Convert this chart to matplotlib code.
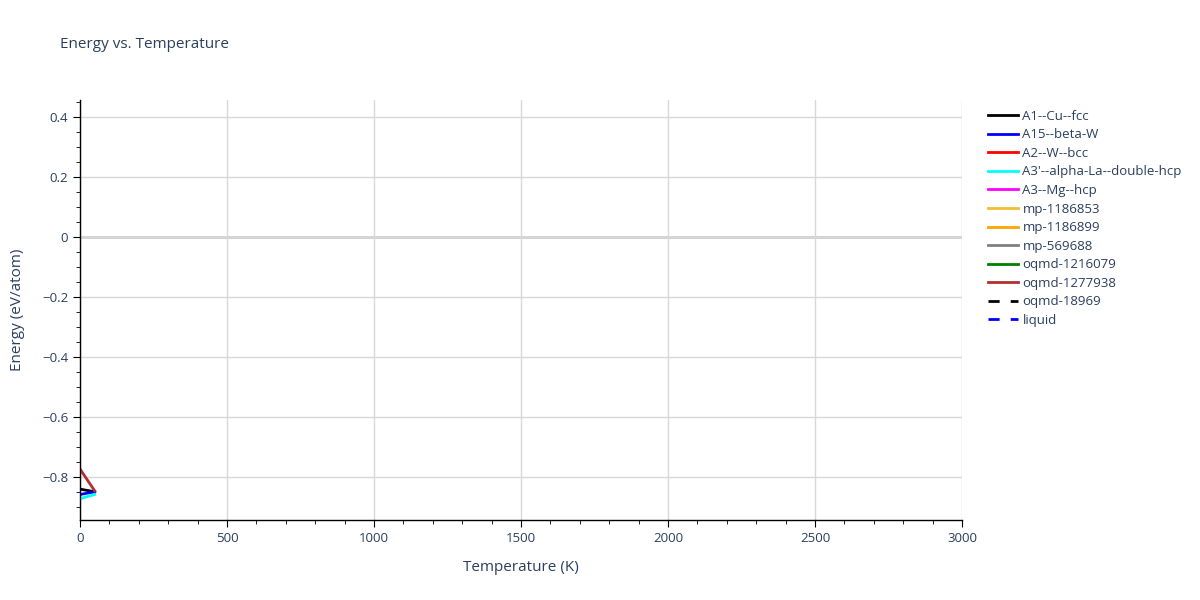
import matplotlib
matplotlib.use("Agg")
import matplotlib.pyplot as plt
from matplotlib.ticker import MultipleLocator

plt.rcParams["font.family"] = ["Open Sans", "DejaVu Sans"]

temps = [0, 50]
names = ["A1--Cu--fcc", "A15--beta-W", "A2--W--bcc", "A3'--alpha-La--double-hcp",
         "A3--Mg--hcp", "mp-1186853", "mp-1186899", "mp-569688", "oqmd-1216079",
         "oqmd-1277938", "oqmd-18969", "liquid"]
colors = ["black", "blue", "red", "cyan", "magenta", "#f0c030", "orange", "gray",
          "green", "#b03030", "black", "blue"]
styles = ["-"] * 10 + ["--", "--"]

e_a1 = [-0.840, -0.849]
e_a15 = [-0.858, -0.849]
e_a2 = []
e_a3p = [-0.872, -0.858]
e_a3 = []
e_mp1186853 = []
e_mp1186899 = []
e_mp569688 = []
e_oqmd1216079 = []
e_oqmd1277938 = [-0.773, -0.846]
e_oqmd18969 = []
e_liquid = []
series = [e_a1, e_a15, e_a2, e_a3p, e_a3, e_mp1186853, e_mp1186899, e_mp569688,
          e_oqmd1216079, e_oqmd1277938, e_oqmd18969, e_liquid]

txt = "#2a3f5f"
fig = plt.figure(figsize=(12, 6), dpi=100)
ax = fig.add_axes([80/1200, 1-520/600, (962-80)/1200, (520-100)/600])
for n, c, s, e in zip(names, colors, styles, series):
    if s == "--":
        ax.plot(temps[:len(e)], e, color=c, lw=2, label=n, dashes=(4, 4))
    else:
        ax.plot(temps[:len(e)], e, color=c, lw=2, label=n)

ax.set_xlim(0, 3000)
ax.set_ylim(-0.943, 0.457)
ax.xaxis.set_major_locator(MultipleLocator(500))
ax.xaxis.set_minor_locator(MultipleLocator(100))
ax.yaxis.set_major_locator(MultipleLocator(0.2))
ax.yaxis.set_minor_locator(MultipleLocator(0.05))
ax.grid(True, which="major", color="#d8d8d8", lw=1)
ax.axhline(0, color="#cccccc", lw=2, zorder=0.5)
ax.set_axisbelow(True)
for sp in ["top", "right"]:
    ax.spines[sp].set_visible(False)
for sp in ["left", "bottom"]:
    ax.spines[sp].set_color("black")
    ax.spines[sp].set_linewidth(1)
ax.tick_params(which="major", length=5, color="black", labelcolor=txt, labelsize=9.5)
ax.tick_params(which="minor", length=3, color="black")
ax.yaxis.set_major_formatter(matplotlib.ticker.FuncFormatter(
    lambda v, p: "0" if abs(v) < 1e-9 else f"{v:.1f}".replace("-", "\u2212")))
ax.set_xlabel("Temperature (K)", color=txt, fontsize=11, labelpad=11)
ax.set_ylabel("Energy (eV/atom)", color=txt, fontsize=11, labelpad=12)
fig.text(60/1200, 1-45/600, "Energy vs. Temperature", color=txt, fontsize=11, va="center")

leg = fig.legend(loc="upper left", bbox_to_anchor=(976/1200, 1-98/600), frameon=False,
                 fontsize=9.5, labelcolor=txt, handlelength=2.27, labelspacing=0.42,
                 handletextpad=0.35)
fig.savefig("out.png")
